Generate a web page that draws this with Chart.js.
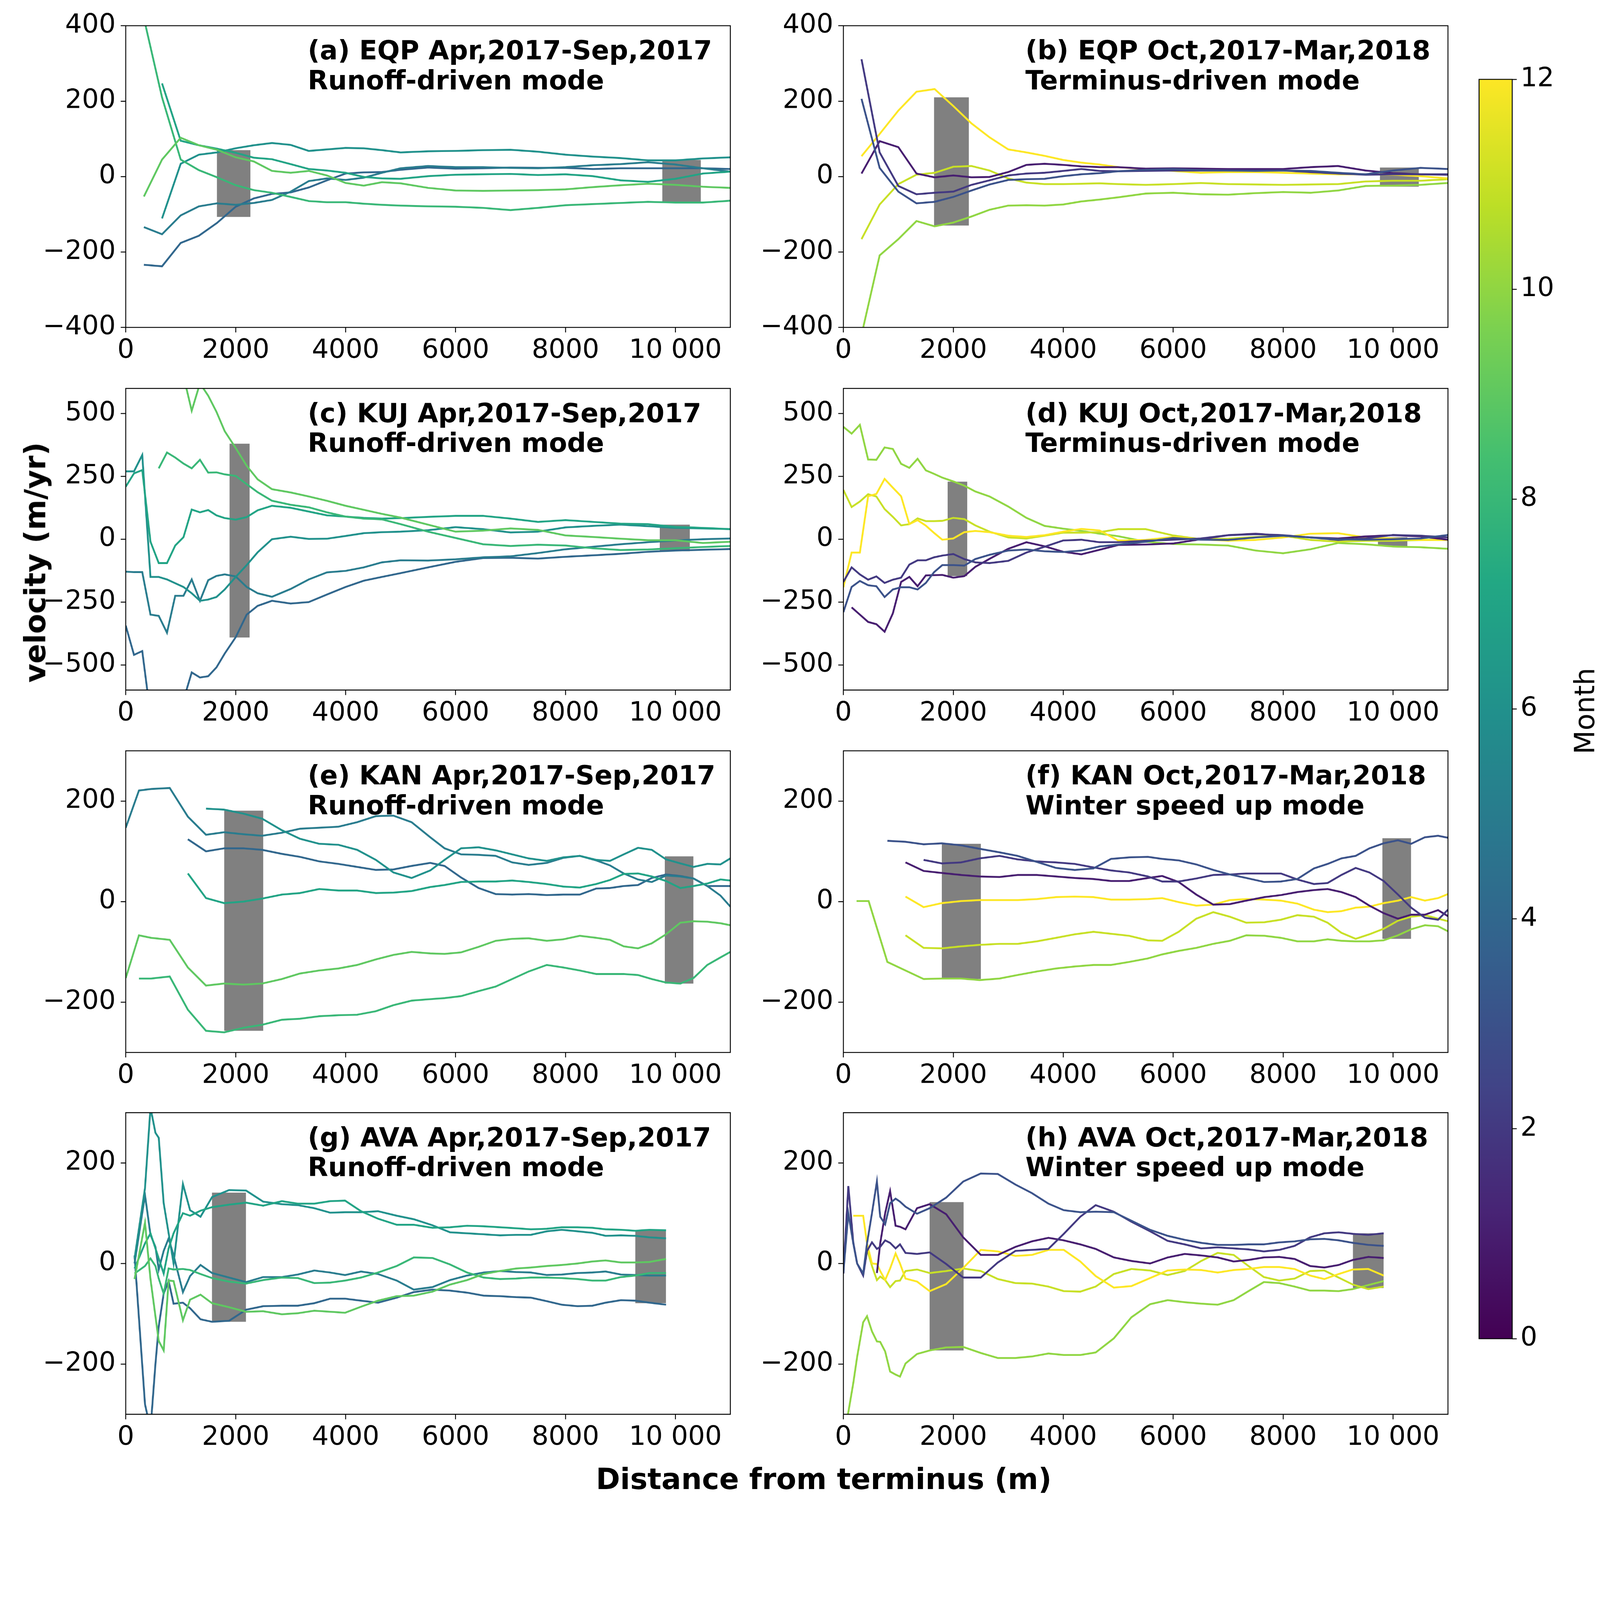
<!DOCTYPE html>
<html>
<head>
<meta charset="utf-8">
<script src="https://cdn.jsdelivr.net/npm/chart.js@4.4.1/dist/chart.umd.min.js"></script>
<style>
  html, body { margin: 0; padding: 0; background: #fff; }
  #page { position: relative; width: 6031px; height: 5687px; overflow: hidden; font-family: 'DejaVu Sans', sans-serif; color: #000; transform-origin: 0 0; }
  canvas { position: absolute; }
  .note { position: absolute; z-index: 5; font-weight: bold; font-size: 100px; line-height: 113px; white-space: nowrap; }
  .title { position: absolute; z-index: 5; font-weight: bold; font-size: 110px; line-height: 128px; white-space: nowrap; }
  .cblabel { position: absolute; z-index: 5; font-size: 104px; line-height: 120px; white-space: nowrap; }
</style>
</head>
<body>
<div id="page"></div>
<script>
// ---- ticks ----
const xTicks = [0, 2000, 4000, 6000, 8000, 10000];
const eqpYTicks = [-400, -200, 0, 200, 400];
const kujYTicks = [-500, -250, 0, 250, 500];
const kanYTicks = [-200, 0, 200];
const monthTicks = [0, 2, 4, 6, 8, 10, 12];

const aprSep = [4, 5, 6, 7, 8, 9];
const octMar = [10, 11, 12, 1, 2, 3];

// ---- EQP (a, b) ----
const eqpX = [330, 660, 1000, 1330, 1660, 2000, 2330, 2660, 3000, 3330, 3660, 4000, 4330, 4660, 5000, 5500, 6000, 6500, 7000, 7500, 8000, 8500, 9000, 9500, 10000, 10500, 11000];
const a4 = [-234, -238, -176, -157, -123, -80, -58, -46, -42, -29, -10, 8, 11, 12, 18, 24, 21, 22, 24, 23, 23, 20, 22, 22, 22, 22, 20];
const a5 = [-134, -153, -103, -79, -71, -75, -70, -62, -40, -12, -5, -9, -3, 10, 22, 28, 25, 25, 23, 22, 25, 30, 33, 38, 32, 22, 13];
const a6 = [null, -111, 34, 58, 64, 75, 83, 89, 84, 68, 72, 76, 75, 70, 64, 67, 68, 70, 71, 66, 58, 53, 49, 43, 43, 48, 51];
const a7 = [null, 247, 95, 83, 74, 63, 50, 46, 33, 20, 16, 10, -1, -5, -6, 1, 5, 6, 7, 4, 6, 1, -10, -14, -6, 8, 13];
const a8 = [420, 210, 45, 17, -2, -23, -36, -43, -54, -65, -68, -68, -72, -75, -77, -79, -80, -83, -89, -83, -76, -73, -70, -67, -69, -69, -64];
const a9 = [-53, 45, 103, 83, 71, 51, 40, 15, 10, 15, 3, -17, -24, -15, -18, -30, -37, -38, -37, -36, -34, -28, -23, -19, -22, -27, -30];
const aBars = [[1657, 2269, -107, 70], [9761, 10463, -67, 44]];

const b10 = [-420, -209, -166, -118, -132, -122, -106, -88, -77, -76, -77, -74, -66, -61, -55, -45, -43, -47, -48, -44, -41, -43, -37, -25, -24, -22, -17];
const b11 = [-166, -74, -20, 5, 10, 26, 28, 16, -5, -16, -20, -20, -19, -18, -20, -22, -20, -17, -20, -21, -22, -21, -20, -13, -11, -11, -7];
const b12 = [54, 113, 175, 225, 232, 187, 141, 104, 72, 64, 55, 44, 37, 32, 25, 20, 15, 10, 12, 12, 10, 8, 6, 6, 5, 1, -5];
const b1 = [8, 94, 78, 8, -2, 3, -2, -1, 12, 31, 34, 31, 27, 25, 25, 21, 22, 21, 20, 20, 20, 25, 28, 16, 9, 6, 5];
const b2 = [311, 64, -25, -47, -43, -40, -22, -10, 3, 8, 10, 15, 20, 15, 14, 15, 16, 16, 16, 16, 16, 12, 8, 5, 6, 6, 6];
const b3 = [206, 23, -40, -71, -67, -54, -37, -21, -9, -7, -6, 1, 6, 9, 14, 18, 20, 17, 16, 15, 16, 15, 10, 6, 16, 23, 20];
const bBars = [[1649, 2284, -130, 210], [9761, 10470, -27, 24]];

// ---- KUJ (c, d) ----
const kujX = [0, 150, 300, 450, 600, 750, 900, 1050, 1200, 1350, 1500, 1650, 1800, 2000, 2200, 2400, 2660, 3000, 3330, 3660, 4000, 4330, 4660, 5000, 5500, 6000, 6500, 7000, 7500, 8000, 8500, 9000, 9500, 10000, 10500, 11000];
const c4 = [-344, -460, -445, -700, -700, -700, -700, -640, -530, -550, -545, -510, -455, -390, -300, -265, -245, -256, -250, -220, -190, -165, -150, -135, -112, -90, -75, -74, -77, -70, -64, -58, -50, -45, -42, -39];
const c5 = [-129, -131, -131, -300, -305, -372, -225, -225, -160, -245, -163, -146, -140, -148, -190, -215, -229, -198, -160, -132, -126, -112, -92, -84, -85, -80, -72, -68, -55, -40, -30, -20, -12, -5, 0, 3];
const c6 = [270, 270, 335, -150, -150, -160, -175, -190, -215, -245, -240, -230, -200, -150, -103, -52, 0, 10, 1, 2, 13, 24, 28, 30, 36, 48, 40, 27, 30, 47, 53, 58, 52, 45, 43, 40];
const c7 = [209, 262, 275, -10, -95, -95, -25, 8, 118, 107, 116, 95, 84, 78, 88, 115, 133, 125, 110, 95, 90, 85, 82, 84, 89, 93, 93, 82, 69, 76, 69, 62, 60, 49, 45, 40];
const c8 = [null, null, null, null, 282, 345, 325, 301, 282, 316, 265, 266, 258, 252, 219, 187, 153, 137, 127, 107, 90, 82, 79, 60, 30, 5, -20, -27, -22, -25, -36, -43, -41, -36, -31, -27];
const c9 = [null, null, null, null, null, null, null, 650, 511, 620, 571, 507, 430, 363, 292, 238, 199, 186, 170, 153, 133, 117, 101, 86, 58, 30, 34, 43, 37, 15, 9, 2, -4, -4, -15, -10];
const cBars = [[1888, 2254, -391, 380], [9716, 10261, -48, 58]];

const d10 = [447, 420, 455, 317, 316, 365, 359, 300, 284, 320, 274, 260, 245, 230, 213, 190, 170, 130, 85, 53, 42, 33, 22, 12, -10, -19, -21, -25, -45, -56, -40, -15, -20, -29, -32, -38];
const d11 = [196, 128, 150, 179, 170, 120, 89, 55, 60, 83, 72, 72, 73, 85, 80, 55, 30, 7, 3, 14, 26, 26, 28, 40, 40, 15, 0, 2, 9, 14, -3, -10, -6, -6, -3, -2];
const d12 = [-191, -53, -53, 171, 180, 240, 205, 171, 60, 76, 54, 25, -2, 3, 28, 33, 28, 14, 9, 16, 30, 41, 35, -5, -3, 9, 0, -6, -3, 7, 22, 24, 7, 3, -3, -3];
const d1 = [null, -271, -300, -329, -338, -368, -295, -170, -150, -187, -144, -143, -142, -153, -147, -110, -78, -38, -12, -28, -50, -60, -42, -23, -21, -17, 0, 16, 22, 14, 7, 3, 11, 16, 11, -2];
const d2 = [-170, -112, -140, -161, -148, -174, -161, -153, -101, -84, -84, -72, -65, -59, -79, -92, -95, -86, -53, -30, -5, -2, -12, -12, -6, -2, 3, 16, 20, 16, 7, -3, 3, 17, 14, 7];
const d3 = [-290, -190, -166, -183, -187, -230, -200, -191, -191, -200, -174, -131, -103, -103, -105, -79, -62, -45, -41, -48, -51, -45, -29, -21, -10, 5, -2, -3, 7, 14, 7, 0, -2, 0, 3, 17];
const dBars = [[1896, 2254, -147, 229], [9724, 10261, -28, 8]];

// ---- KAN (e, f) ----
const kanX = [0, 240, 460, 800, 1130, 1460, 1790, 2140, 2480, 2840, 3170, 3520, 3870, 4210, 4550, 4870, 5200, 5540, 5800, 6100, 6420, 6730, 7030, 7330, 7660, 7960, 8260, 8560, 8810, 9060, 9320, 9570, 9830, 10090, 10330, 10580, 10820, 11000];
const e4 = [null, null, null, null, 124, 100, 106, 106, 103, 95, 89, 80, 75, 69, 63, 64, 71, 77, 71, 48, 27, 15, 14, 15, 13, 14, 14, 26, 27, 31, 33, 47, 54, 51, 46, 31, 31, 31];
const e5 = [147, 221, 224, 226, 169, 133, 138, 134, 131, 137, 145, 147, 149, 158, 170, 171, 158, 128, 106, 94, 93, 91, 78, 73, 77, 87, 91, 82, 72, 56, 44, 39, 52, 50, 46, 31, 12, -10];
const e6 = [null, null, null, null, null, 185, 183, 175, 165, 142, 125, 115, 113, 103, 83, 58, 47, 62, 83, 106, 108, 102, 94, 86, 81, 88, 91, 83, 81, 94, 107, 103, 84, 76, 69, 75, 74, 86];
const e7 = [null, null, null, null, 56, 7, -3, 0, 6, 14, 17, 25, 22, 22, 17, 18, 21, 29, 33, 39, 40, 40, 42, 39, 35, 30, 28, 35, 43, 55, 56, 50, 41, 27, 31, 36, 44, 42];
const e8 = [null, -153, -153, -149, -215, -257, -260, -251, -245, -235, -233, -228, -226, -225, -218, -206, -197, -194, -192, -188, -178, -169, -154, -139, -126, -131, -137, -144, -144, -144, -146, -154, -161, -163, -152, -126, -111, -100];
const e9 = [-152, -67, -72, -76, -131, -167, -163, -165, -163, -154, -143, -137, -133, -126, -115, -106, -100, -103, -104, -101, -90, -78, -74, -73, -78, -75, -68, -72, -76, -89, -93, -83, -65, -42, -39, -40, -43, -47];
const eBars = [[1791, 2500, -257, 181], [9806, 10328, -163, 90]];

const f10 = [null, 1, 1, -120, -137, -154, -153, -153, -156, -153, -146, -139, -133, -129, -126, -126, -120, -113, -105, -98, -92, -84, -78, -67, -68, -72, -79, -79, -75, -78, -79, -79, -77, -67, -55, -47, -49, -59];
const f11 = [null, null, null, null, -67, -92, -93, -89, -86, -84, -84, -79, -72, -65, -60, -64, -68, -77, -78, -60, -34, -21, -30, -42, -41, -36, -27, -30, -42, -62, -74, -65, -54, -38, -30, -27, -34, -39];
const f12 = [null, null, null, null, 10, -11, -3, 1, 3, 3, 3, 5, 9, 10, 9, 4, 4, 5, 7, -1, -8, -6, 3, 5, 4, 2, -4, -16, -21, -19, -12, -10, -3, 2, 9, 2, 7, 15];
const f1 = [null, null, null, null, 78, 61, 57, 53, 50, 49, 53, 53, 50, 47, 45, 41, 41, 47, 51, 39, 14, -6, -5, 2, 9, 13, 19, 23, 25, 19, 9, -8, -23, -34, -26, -26, -17, -29];
const f2 = [null, null, null, null, null, 83, 76, 78, 86, 91, 84, 80, 78, 75, 68, 62, 58, 50, 40, 40, 46, 53, 54, 56, 56, 56, 44, 35, 37, 53, 67, 58, 41, 14, -12, -32, -36, -16];
const f3 = [null, null, null, 121, 119, 114, 116, 112, 105, 98, 91, 79, 67, 63, 66, 85, 88, 89, 85, 82, 74, 63, 54, 47, 39, 40, 45, 66, 75, 86, 91, 106, 116, 122, 115, 128, 131, 127];
const fBars = [[1791, 2500, -154, 115], [9806, 10328, -74, 126]];

// ---- AVA (g, h) ----
const avaSummerX = [160, 350, 450, 540, 600, 690, 780, 870, 1040, 1170, 1360, 1570, 1880, 2190, 2500, 2840, 3130, 3430, 3720, 3990, 4280, 4590, 4930, 5240, 5580, 5900, 6210, 6510, 6810, 7100, 7370, 7660, 7930, 8220, 8490, 8730, 9010, 9270, 9530, 9830];
const g4 = [16, -280, -330, -200, -125, -60, -35, -80, -78, -89, -111, -116, -114, -92, -85, -84, -84, -79, -70, -70, -74, -78, -68, -57, -52, -54, -58, -64, -65, -67, -68, -75, -82, -85, -84, -78, -73, -74, -78, -82];
const g5 = [0, 136, 57, 33, -12, 25, 50, 16, -57, -25, -3, -19, -28, -37, -27, -27, -22, -14, -18, -23, -16, -21, -34, -52, -47, -33, -24, -18, -15, -17, -18, -23, -22, -19, -18, -16, -22, -23, -24, -24];
const g6 = [10, 150, 310, 260, 250, 120, 60, 0, 158, 106, 93, 132, 146, 145, 123, 118, 116, 110, 101, 102, 102, 104, 95, 88, 76, 62, 60, 58, 56, 57, 57, 64, 67, 64, 61, 55, 56, 55, 52, 50];
const g7 = [-10, 40, 60, 30, 10, -20, 30, 60, 100, 95, 105, 112, 117, 121, 115, 124, 119, 119, 124, 125, 104, 89, 77, 77, 71, 72, 75, 74, 72, 70, 68, 69, 72, 72, 71, 68, 67, 65, 67, 66];
const g8 = [-20, -5, 10, -5, -30, -60, -10, -12, -11, -13, -21, -29, -36, -40, -33, -28, -29, -39, -38, -34, -28, -18, -5, 12, 11, -2, -18, -28, -31, -30, -28, -28, -29, -31, -34, -34, -27, -24, -19, -19];
const g9 = [-31, 81, -31, -105, -154, -173, -34, -35, -113, -72, -62, -79, -87, -96, -95, -101, -99, -94, -96, -98, -86, -74, -65, -64, -56, -42, -33, -21, -15, -10, -8, -5, -3, 0, 4, 6, 2, 2, 3, 9];
const gBars = [[1567, 2187, -116, 141], [9269, 9828, -79, 66]];

const avaWinterX = [0, 90, 180, 250, 360, 430, 520, 610, 670, 760, 850, 950, 1030, 1130, 1340, 1570, 1870, 2180, 2500, 2810, 3130, 3430, 3730, 4010, 4310, 4590, 4920, 5240, 5580, 5900, 6210, 6510, 6810, 7100, 7370, 7650, 7930, 8210, 8490, 8750, 9010, 9270, 9550, 9830];
const h10 = [-340, -296, -238, -186, -117, -105, -135, -155, -156, -175, -215, -221, -225, -199, -180, -173, -167, -166, -178, -188, -188, -185, -179, -182, -182, -177, -149, -107, -81, -73, -77, -80, -82, -73, -55, -37, -39, -46, -54, -54, -55, -51, -43, -35];
const h11 = [null, null, null, null, null, 29, -5, -33, -26, -33, -47, -35, -34, -15, -12, -19, -15, -10, -15, -31, -39, -40, -46, -55, -56, -46, -21, -11, -14, -23, -15, 5, 21, 17, -5, -27, -34, -30, -15, -14, -28, -42, -51, -46];
const h12 = [null, null, 95, 95, 95, 40, 0, -1, -15, -33, -10, 20, 0, -30, -36, -55, -41, -9, 27, 24, 15, 17, 27, 27, 4, -25, -48, -45, -29, -14, -12, -13, -18, -13, -11, -7, -7, -11, -24, -31, -21, -12, -11, -24];
const h1 = [null, null, null, null, null, null, null, -19, 40, 100, 144, 75, 73, 68, 110, 118, 98, 52, 17, 17, 33, 44, 51, 46, 38, 29, 12, 5, 0, 12, 19, 16, 12, 4, 7, 12, 13, 9, -5, -8, -3, 7, 13, 11];
const h2 = [-20, 154, 42, 0, -24, 25, 42, 29, 33, 46, 41, 30, 38, 21, 19, 22, -1, -28, -28, 2, 25, 27, 29, 59, 93, 116, 103, 83, 64, 45, 38, 30, 32, 30, 28, 24, 27, 35, 52, 60, 62, 59, 57, 60];
const h3 = [-18, 100, 40, 0, -20, 40, 100, 163, 93, 78, 120, 129, 123, 113, 99, 110, 131, 163, 179, 178, 157, 140, 119, 106, 102, 103, 102, 85, 67, 55, 47, 41, 37, 37, 38, 38, 42, 44, 48, 49, 46, 41, 37, 35];
const hBars = [[1567, 2187, -173, 122], [9269, 9828, -49, 60]];

// ---- layout ----
const pageW = 6031, pageH = 5687;
const colLeft = [474, 3179];
const rowTop = [88, 1455, 2821, 4185];
const plotW = 2279, plotH = 1146;
const axisW = 420, axisH = 200, padTop = 70, padRight = 30;
const cb = { left: 5575, right: 5700, top: 295, bottom: 5060 };

const viridisStops = ['#440154', '#482475', '#414487', '#355f8d', '#2a788e', '#21918c', '#22a884', '#44bf70', '#7ad151', '#bddf26', '#fde725'];

function hexToRgb(h) {
  return [1, 3, 5].map(i => parseInt(h.slice(i, i + 2), 16));
}

function viridis(t) {
  const n = viridisStops.length - 1;
  const p = Math.min(Math.max(t, 0), 1) * n;
  const i = Math.min(Math.floor(p), n - 1);
  const f = p - i;
  const c0 = hexToRgb(viridisStops[i]), c1 = hexToRgb(viridisStops[i + 1]);
  const c = c0.map((v, k) => Math.round(v + (c1[k] - v) * f));
  return `rgb(${c[0]}, ${c[1]}, ${c[2]})`;
}

function fmtTick(v) {
  let s = String(Math.abs(v));
  if (Math.abs(v) >= 10000) s = s.replace(/\B(?=(\d{3})+(?!\d))/g, ' ');
  return (v < 0 ? '\u2212' : '') + s;
}

Chart.defaults.font.family = "'DejaVu Sans', sans-serif";
Chart.defaults.color = '#000';

// black box around the plot area, like the axes spines
const frame = {
  id: 'frame',
  afterDatasetsDraw(chart) {
    const { ctx, chartArea: a } = chart;
    ctx.save();
    ctx.strokeStyle = '#000';
    ctx.lineWidth = 3.5;
    ctx.strokeRect(a.left, a.top, a.right - a.left, a.bottom - a.top);
    ctx.restore();
  }
};

const page = document.getElementById('page');

// the window can be smaller than the figure: shrink the whole figure to fit
const fit = Math.min(window.innerWidth / pageW, window.innerHeight / pageH);
if (fit < 0.995) page.style.transform = `scale(${fit})`;

function addCanvas(left, top, w, h) {
  const cv = document.createElement('canvas');
  cv.width = w; cv.height = h;
  cv.style.left = left + 'px'; cv.style.top = top + 'px';
  cv.style.width = w + 'px'; cv.style.height = h + 'px';
  page.appendChild(cv);
  return cv;
}

function addText(cls, html, style) {
  const d = document.createElement('div');
  d.className = cls;
  d.innerHTML = html;
  Object.assign(d.style, style);
  page.appendChild(d);
  return d;
}

function tickGrid() {
  return { display: true, drawOnChartArea: false, drawTicks: true, tickLength: 19, tickWidth: 3.5, tickColor: '#000', lineWidth: 3.5 };
}

function makePanel(p) {
  const L = colLeft[p.col], T = rowTop[p.row];
  const cv = addCanvas(L - axisW, T - padTop, axisW + plotW + padRight, padTop + plotH + axisH);

  const datasets = p.series.map((ys, i) => ({
    data: p.x.map((x, j) => ({ x, y: ys[j] })),
    borderColor: viridis(p.months[i] / 12),
    borderWidth: 7,
    pointRadius: 0,
    fill: false,
    tension: 0,
    clip: 0,
    order: p.series.length - i
  }));
  p.bars.forEach(([x0, x1, lo, hi]) => {
    datasets.push({
      data: [{ x: x0, y: hi }, { x: x1, y: hi }],
      borderWidth: 0,
      borderColor: 'rgba(0,0,0,0)',
      backgroundColor: '#808080',
      pointRadius: 0,
      fill: { target: { value: lo } },
      order: 100
    });
  });

  new Chart(cv, {
    type: 'line',
    data: { datasets },
    options: {
      responsive: false,
      animation: false,
      events: [],
      layout: { padding: { top: padTop, right: padRight, bottom: 0, left: 0 } },
      plugins: { legend: { display: false }, tooltip: { enabled: false } },
      scales: {
        x: {
          type: 'linear', min: 0, max: 11000,
          afterBuildTicks: s => { s.ticks = xTicks.map(v => ({ value: v })); },
          afterFit: s => { s.height = axisH; },
          grid: tickGrid(),
          border: { display: false },
          ticks: { font: { size: 100 }, padding: 10, maxRotation: 0, minRotation: 0, autoSkip: false, callback: v => fmtTick(v) }
        },
        y: {
          type: 'linear', min: -p.yMax, max: p.yMax,
          afterBuildTicks: s => { s.ticks = p.yTicks.map(v => ({ value: v })); },
          afterFit: s => { s.width = axisW; },
          grid: tickGrid(),
          border: { display: false },
          ticks: { font: { size: 100 }, padding: 19, autoSkip: false, callback: v => fmtTick(v) }
        }
      }
    },
    plugins: [frame]
  });

  addText('note', p.text[0] + '<br>' + p.text[1], { left: (L + 686) + 'px', top: (T + 45) + 'px' });
}

const panels = [
  { col: 0, row: 0, x: eqpX, months: aprSep, series: [a4, a5, a6, a7, a8, a9], bars: aBars, yMax: 400, yTicks: eqpYTicks, text: ['(a) EQP Apr,2017-Sep,2017', 'Runoff-driven mode'] },
  { col: 1, row: 0, x: eqpX, months: octMar, series: [b10, b11, b12, b1, b2, b3], bars: bBars, yMax: 400, yTicks: eqpYTicks, text: ['(b) EQP Oct,2017-Mar,2018', 'Terminus-driven mode'] },
  { col: 0, row: 1, x: kujX, months: aprSep, series: [c4, c5, c6, c7, c8, c9], bars: cBars, yMax: 600, yTicks: kujYTicks, text: ['(c) KUJ Apr,2017-Sep,2017', 'Runoff-driven mode'] },
  { col: 1, row: 1, x: kujX, months: octMar, series: [d10, d11, d12, d1, d2, d3], bars: dBars, yMax: 600, yTicks: kujYTicks, text: ['(d) KUJ Oct,2017-Mar,2018', 'Terminus-driven mode'] },
  { col: 0, row: 2, x: kanX, months: aprSep, series: [e4, e5, e6, e7, e8, e9], bars: eBars, yMax: 300, yTicks: kanYTicks, text: ['(e) KAN Apr,2017-Sep,2017', 'Runoff-driven mode'] },
  { col: 1, row: 2, x: kanX, months: octMar, series: [f10, f11, f12, f1, f2, f3], bars: fBars, yMax: 300, yTicks: kanYTicks, text: ['(f) KAN Oct,2017-Mar,2018', 'Winter speed up mode'] },
  { col: 0, row: 3, x: avaSummerX, months: aprSep, series: [g4, g5, g6, g7, g8, g9], bars: gBars, yMax: 300, yTicks: kanYTicks, text: ['(g) AVA Apr,2017-Sep,2017', 'Runoff-driven mode'] },
  { col: 1, row: 3, x: avaWinterX, months: octMar, series: [h10, h11, h12, h1, h2, h3], bars: hBars, yMax: 300, yTicks: kanYTicks, text: ['(h) AVA Oct,2017-Mar,2018', 'Winter speed up mode'] }
];

panels.forEach(makePanel);

// ---- colour bar ----
const cbPadL = 10, cbAxisW = 320, cbPadB = 60;
const cbCanvas = addCanvas(cb.left - cbPadL, cb.top - padTop, cbPadL + (cb.right - cb.left) + cbAxisW, padTop + (cb.bottom - cb.top) + cbPadB);
new Chart(cbCanvas, {
  type: 'bar',
  data: {
    labels: ['Month'],
    datasets: [{
      data: [[monthTicks[0], monthTicks[monthTicks.length - 1]]],
      borderWidth: 0,
      barPercentage: 1,
      categoryPercentage: 1,
      backgroundColor(ctx) {
        const a = ctx.chart.chartArea;
        if (!a) return viridisStops[0];
        const g = ctx.chart.ctx.createLinearGradient(0, a.bottom, 0, a.top);
        viridisStops.forEach((c, i) => g.addColorStop(i / (viridisStops.length - 1), c));
        return g;
      }
    }]
  },
  options: {
    responsive: false,
    animation: false,
    events: [],
    layout: { padding: { top: padTop, right: 0, bottom: cbPadB, left: cbPadL } },
    plugins: { legend: { display: false }, tooltip: { enabled: false } },
    scales: {
      x: { display: false },
      y: {
        position: 'right', min: 0, max: 12,
        afterBuildTicks: s => { s.ticks = monthTicks.map(v => ({ value: v })); },
        afterFit: s => { s.width = cbAxisW; },
        grid: { display: true, drawOnChartArea: false, drawTicks: true, tickLength: 17, tickWidth: 3.5, tickColor: '#000' },
        border: { display: false },
        ticks: { font: { size: 100 }, padding: 14, autoSkip: false }
      }
    }
  },
  plugins: [frame]
});

// ---- shared axis titles ----
addText('title', 'Distance from terminus (m)', { left: '3105px', top: '5511px', transform: 'translateX(-50%)' });
addText('title', 'velocity (m/yr)', { left: '133px', top: '2120px', transform: 'translate(-50%, -50%) rotate(-90deg)' });
addText('cblabel', 'Month', { left: '5973px', top: '2680px', transform: 'translate(-50%, -50%) rotate(-90deg)' });
</script>
</body>
</html>
